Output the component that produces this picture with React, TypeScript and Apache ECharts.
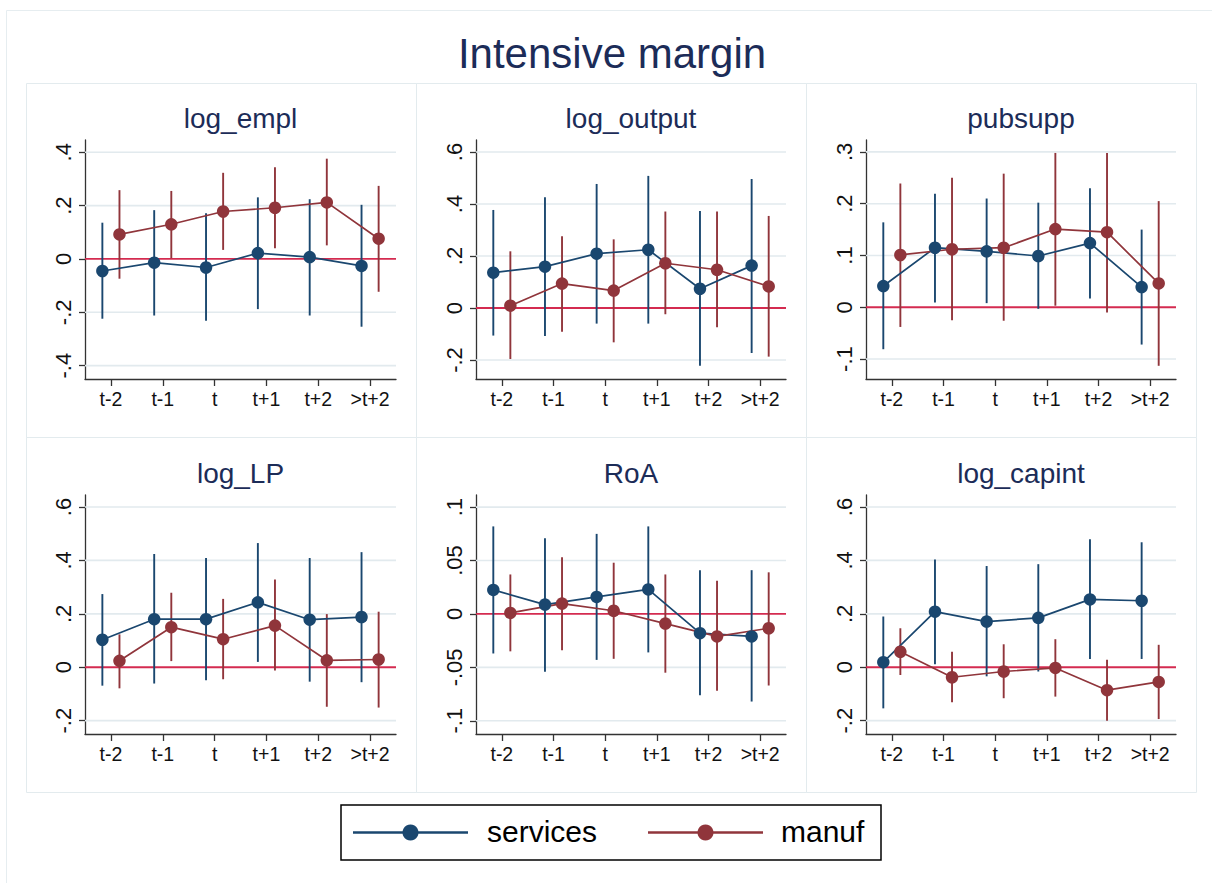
import React, { useEffect, useRef } from "react";
import * as echarts from "echarts";

const categories = ["t-2", "t-1", "t", "t+1", "t+2", ">t+2"];
const panelNames = ["log_empl", "log_output", "pubsupp", "log_LP", "RoA", "log_capint"];
const groupNames = ["services", "manuf"];

// rows: [coefficient, lower CI, upper CI] for t-2 ... >t+2
const logEmplServices = [[-0.045, -0.224, 0.136], [-0.014, -0.212, 0.183], [-0.032, -0.232, 0.171], [0.022, -0.188, 0.231], [0.007, -0.212, 0.224], [-0.026, -0.254, 0.203]];
const logEmplManuf = [[0.092, -0.074, 0.258], [0.130, 0.003, 0.255], [0.178, 0.034, 0.323], [0.192, 0.040, 0.344], [0.212, 0.051, 0.376], [0.076, -0.123, 0.274]];

const logOutputServices = [[0.136, -0.106, 0.377], [0.159, -0.108, 0.426], [0.209, -0.060, 0.477], [0.224, -0.060, 0.508], [0.074, -0.222, 0.373], [0.163, -0.173, 0.496]];
const logOutputManuf = [[0.009, -0.196, 0.218], [0.094, -0.091, 0.276], [0.067, -0.132, 0.264], [0.172, -0.024, 0.371], [0.147, -0.074, 0.371], [0.083, -0.187, 0.354]];

const pubsuppServices = [[0.041, -0.081, 0.164], [0.115, 0.009, 0.219], [0.108, 0.008, 0.210], [0.099, -0.003, 0.202], [0.124, 0.017, 0.230], [0.039, -0.072, 0.150]];
const pubsuppManuf = [[0.101, -0.038, 0.239], [0.112, -0.025, 0.250], [0.115, -0.026, 0.258], [0.151, 0.003, 0.298], [0.145, -0.010, 0.298], [0.046, -0.113, 0.205]];

const logLPServices = [[0.103, -0.069, 0.274], [0.180, -0.061, 0.424], [0.180, -0.049, 0.409], [0.243, 0.020, 0.465], [0.178, -0.054, 0.409], [0.188, -0.056, 0.431]];
const logLPManuf = [[0.024, -0.079, 0.123], [0.150, 0.023, 0.279], [0.105, -0.045, 0.256], [0.156, -0.012, 0.329], [0.026, -0.148, 0.199], [0.029, -0.151, 0.208]];

const roaServices = [[0.0225, -0.037, 0.082], [0.0088, -0.054, 0.071], [0.016, -0.043, 0.075], [0.023, -0.036, 0.082], [-0.018, -0.076, 0.041], [-0.021, -0.082, 0.041]];
const roaManuf = [[0.001, -0.035, 0.037], [0.0097, -0.034, 0.053], [0.003, -0.042, 0.048], [-0.009, -0.055, 0.037], [-0.021, -0.072, 0.031], [-0.0134, -0.067, 0.039]];

const logCapintServices = [[0.019, -0.154, 0.190], [0.208, 0.011, 0.403], [0.171, -0.034, 0.379], [0.185, -0.016, 0.386], [0.254, 0.031, 0.479], [0.249, 0.031, 0.468]];
const logCapintManuf = [[0.058, -0.029, 0.146], [-0.0375, -0.131, 0.058], [-0.016, -0.116, 0.086], [-0.0025, -0.110, 0.105], [-0.086, -0.200, 0.028], [-0.055, -0.194, 0.084]];

// y-axis ticks and ranges
const ticksEmpl = [-0.4, -0.2, 0, 0.2, 0.4];
const ticksOutput = [-0.2, 0, 0.2, 0.4, 0.6];
const ticksPubsupp = [-0.1, 0, 0.1, 0.2, 0.3];
const ticksLP = [-0.2, 0, 0.2, 0.4, 0.6];
const ticksRoA = [-0.1, -0.05, 0, 0.05, 0.1];
const ticksCapint = [-0.2, 0, 0.2, 0.4, 0.6];

const rangeEmpl = [-0.45, 0.446];
const rangeOutput = [-0.273, 0.646];
const rangePubsupp = [-0.1385, 0.323];
const rangeLP = [-0.25, 0.645];
const rangeRoA = [-0.1124, 0.1114];
const rangeCapint = [-0.25, 0.645];

const panelServices = [logEmplServices, logOutputServices, pubsuppServices, logLPServices, roaServices, logCapintServices];
const panelManuf = [logEmplManuf, logOutputManuf, pubsuppManuf, logLPManuf, roaManuf, logCapintManuf];
const panelTicks = [ticksEmpl, ticksOutput, ticksPubsupp, ticksLP, ticksRoA, ticksCapint];
const panelRanges = [rangeEmpl, rangeOutput, rangePubsupp, rangeLP, rangeRoA, rangeCapint];

const FONT = "'Liberation Sans', Arial, Helvetica, sans-serif";
const C_SERV = "#1a476f";
const C_MANUF = "#90353b";
const C_ZERO = "#d42b50";
const C_GRID = "#e2eaee";
const C_AXIS = "#333333";
const C_TITLE = "#1c2c58";
const OFF = 0.165;

const COLS = [{ left: 85, width: 311 }, { left: 476, width: 310 }, { left: 866, width: 310 }];
const ROWS = [140, 495];
const PLOT_H = 239;

const fmtTick = (v: number) => {
  const s = parseFloat(v.toFixed(4)).toString();
  return s.replace(/^(-?)0\./, "$1.");
};

function buildOption() {
  const grids: any[] = [];
  const xAxes: any[] = [];
  const yAxes: any[] = [];
  const series: any[] = [];
  const graphics: any[] = [];
  const xPos = categories.map((_, k) => k + 1);

  // outer frame
  graphics.push({ type: "rect", shape: { x: 6.5, y: 10.5, width: 1240, height: 900 }, style: { fill: "#fff", stroke: "#e6edf0", lineWidth: 1 }, z: -10, silent: true });

  panelNames.forEach((name, i) => {
    const col = COLS[i % 3];
    const top = ROWS[Math.floor(i / 3)];
    grids.push({ left: col.left, top, width: col.width, height: PLOT_H, containLabel: false });

    // panel box
    graphics.push({
      type: "rect",
      shape: { x: 26.5 + (i % 3) * 390, y: Math.floor(i / 3) === 0 ? 83.5 : 437.5, width: 390, height: Math.floor(i / 3) === 0 ? 354 : 355 },
      style: { fill: "none", stroke: "#e3ebee", lineWidth: 1 },
      z: -5,
      silent: true,
    });
    graphics.push({
      type: "text",
      x: col.left + col.width / 2,
      y: top - 21.5,
      style: { text: name, fontSize: 28, fontFamily: FONT, fill: C_TITLE, textAlign: "center", textVerticalAlign: "middle" },
      silent: true,
    });

    xAxes.push({
      type: "value",
      gridIndex: i,
      min: 0.5,
      max: 6.5,
      axisLine: { show: true, onZero: false, lineStyle: { color: C_AXIS, width: 1.3 } },
      axisTick: { show: true, length: 7, customValues: xPos, lineStyle: { color: C_AXIS, width: 1.3 } },
      axisLabel: {
        customValues: xPos,
        formatter: (v: number) => categories[Math.round(v) - 1],
        fontSize: 19.5,
        fontFamily: FONT,
        color: "#111",
        margin: 10,
      },
      splitLine: { show: false },
    });

    const ticks = panelTicks[i];
    yAxes.push({
      type: "value",
      gridIndex: i,
      min: panelRanges[i][0],
      max: panelRanges[i][1],
      axisLine: { show: true, onZero: false, lineStyle: { color: C_AXIS, width: 1.3 } },
      axisTick: { show: true, length: 6, customValues: ticks, lineStyle: { color: C_AXIS, width: 1.3 } },
      axisLabel: {
        customValues: ticks,
        formatter: (v: number) => fmtTick(v),
        rotate: 90,
        fontSize: 22,
        fontFamily: FONT,
        color: "#111",
        margin: 11,
      },
      splitLine: { show: false },
    });

    const hLine = (color: string, width: number) => (params: any, api: any) => {
      const v = api.value(0);
      const a = api.coord([0.5, v]);
      const b = api.coord([6.5, v]);
      return { type: "line", shape: { x1: a[0], y1: a[1], x2: b[0], y2: b[1] }, style: { stroke: color, lineWidth: width } };
    };

    series.push({
      type: "custom",
      xAxisIndex: i,
      yAxisIndex: i,
      data: ticks.filter((t) => t !== 0).map((t) => [t]),
      encode: { y: 0 },
      renderItem: hLine(C_GRID, 1.6),
      z: 1,
      silent: true,
    });
    series.push({
      type: "custom",
      xAxisIndex: i,
      yAxisIndex: i,
      data: [[0]],
      encode: { y: 0 },
      renderItem: hLine(C_ZERO, 1.8),
      z: 1,
      silent: true,
    });

    const groups = [panelServices[i], panelManuf[i]];
    const colors = [C_SERV, C_MANUF];
    const offs = [-OFF, OFF];
    groups.forEach((rows, g) => {
      series.push({
        type: "custom",
        xAxisIndex: i,
        yAxisIndex: i,
        data: rows.map((r, k) => [xPos[k] + offs[g], r[1], r[2]]),
        encode: { x: 0, y: [1, 2] },
        renderItem: (params: any, api: any) => {
          const p1 = api.coord([api.value(0), api.value(1)]);
          const p2 = api.coord([api.value(0), api.value(2)]);
          return { type: "line", shape: { x1: p1[0], y1: p1[1], x2: p2[0], y2: p2[1] }, style: { stroke: colors[g], lineWidth: 1.9 } };
        },
        z: 2,
        silent: true,
      });
      series.push({
        type: "line",
        name: groupNames[g],
        xAxisIndex: i,
        yAxisIndex: i,
        data: rows.map((r, k) => [xPos[k] + offs[g], r[0]]),
        symbol: "circle",
        symbolSize: 12.5,
        showSymbol: true,
        itemStyle: { color: colors[g] },
        lineStyle: { color: colors[g], width: 1.7 },
        z: 3,
        silent: true,
      });
    });
  });

  // main title
  graphics.push({
    type: "text",
    x: 612,
    y: 53.5,
    style: { text: "Intensive margin", fontSize: 42, fontFamily: FONT, fill: C_TITLE, textAlign: "center", textVerticalAlign: "middle" },
    silent: true,
  });

  // legend
  graphics.push({ type: "rect", shape: { x: 341, y: 805, width: 540, height: 55 }, style: { fill: "#fff", stroke: "#000", lineWidth: 1.5 }, silent: true });
  const legendX = [353, 648];
  const textX = [487, 781];
  const legendColors = [C_SERV, C_MANUF];
  groupNames.forEach((n, g) => {
    graphics.push({ type: "line", shape: { x1: legendX[g], y1: 832.5, x2: legendX[g] + 115, y2: 832.5 }, style: { stroke: legendColors[g], lineWidth: 2.5 }, silent: true });
    graphics.push({ type: "circle", shape: { cx: legendX[g] + 57.5, cy: 832.5, r: 8 }, style: { fill: legendColors[g] }, silent: true });
    graphics.push({ type: "text", x: textX[g], y: 831, style: { text: n, fontSize: 30, fontFamily: FONT, fill: "#000", textAlign: "left", textVerticalAlign: "middle" }, silent: true });
  });

  return {
    animation: false,
    backgroundColor: "#ffffff",
    grid: grids,
    xAxis: xAxes,
    yAxis: yAxes,
    series,
    graphic: graphics,
  };
}

export default function App() {
  const ref = useRef<HTMLDivElement>(null);
  useEffect(() => {
    document.body.style.margin = "0";
    if (!ref.current) return;
    const chart = echarts.init(ref.current, undefined, { renderer: "svg" });
    chart.setOption(buildOption() as any);
    return () => chart.dispose();
  }, []);
  return <div ref={ref} style={{ position: "absolute", left: 0, top: 0, width: 1212, height: 883 }} />;
}
